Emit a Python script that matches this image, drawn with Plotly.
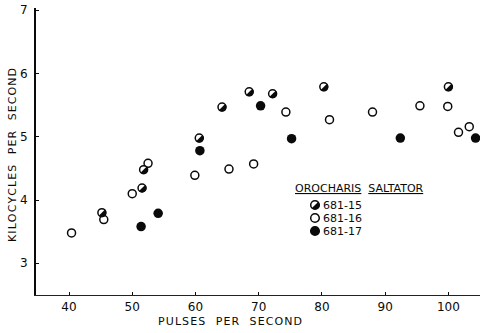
import numpy as np
import plotly.graph_objects as go

# ---- data ----
x15 = [45.2, 51.55, 51.8, 60.6, 64.2, 68.5, 72.2, 80.3, 100.0]
y15 = [3.80, 4.19, 4.48, 4.98, 5.47, 5.71, 5.68, 5.79, 5.79]
x16 = [40.4, 45.5, 50.0, 52.5, 59.9, 65.3, 69.2, 74.3, 81.2, 88.0, 95.5, 99.9, 101.6, 103.3]
y16 = [3.48, 3.69, 4.10, 4.58, 4.39, 4.49, 4.57, 5.39, 5.27, 5.39, 5.49, 5.48, 5.07, 5.16]
x17 = [51.4, 54.1, 60.7, 70.3, 75.2, 92.4, 104.3]
y17 = [3.58, 3.79, 4.78, 5.49, 4.97, 4.98, 4.98]
series_names = ["681-15", "681-16", "681-17"]
x_ticks = [40, 50, 60, 70, 80, 90, 100]
y_ticks = [3, 4, 5, 6, 7]
x_title = "PULSES PER SECOND"
y_title = "KILOCYCLES PER SECOND"
legend_words = ["OROCHARIS", "SALTATOR"]

FONT = "DejaVu Sans"
INK = "#0a0a0a"
MS = 8      # marker size
LW = 1.5    # marker outline width

HAIR = "\u200a"
NBSP = "\u00a0"


def spaced(s, gap=HAIR):
    words = s.split(" ")
    return (NBSP * 3).join(gap.join(w) for w in words)


# half-disk (lower-right half) polygon in pixel offsets, y up
R = MS / 2 + 0.4
ang = np.linspace(np.pi / 4, -3 * np.pi / 4, 25)
half_path = "M " + " L ".join(f"{R*np.cos(a):.2f},{R*np.sin(a):.2f}" for a in ang) + " Z"

fig = go.Figure()

fig.add_trace(go.Scatter(x=x16, y=y16, mode="markers", name=series_names[1],
                         marker=dict(size=MS, color="white", line=dict(color=INK, width=LW))))
fig.add_trace(go.Scatter(x=x15, y=y15, mode="markers", name=series_names[0],
                         marker=dict(size=MS, color="white", line=dict(color=INK, width=LW))))
fig.add_trace(go.Scatter(x=x17, y=y17, mode="markers", name=series_names[2],
                         marker=dict(size=MS + 1.5, color=INK, line=dict(color=INK, width=0))))

shapes = []
for xv, yv in zip(x15, y15):
    shapes.append(dict(type="path", xref="x", yref="y", xsizemode="pixel", ysizemode="pixel",
                       xanchor=xv, yanchor=yv, path=half_path,
                       fillcolor=INK, line=dict(width=0), layer="above"))

# ---- legend drawn by hand (keys + text) ----
def px2paper_x(px):
    return (px - 36) / 444.0


def px2paper_y(py):
    return (295 - py) / 287.0


key_x = px2paper_x(315)
rows_y = [px2paper_y(v) for v in (205, 218, 231)]
cr = MS / 2
for i, ry in enumerate(rows_y):
    fill = INK if i == 2 else "white"
    shapes.append(dict(type="circle", xref="paper", yref="paper", xsizemode="pixel", ysizemode="pixel",
                       xanchor=key_x, yanchor=ry, x0=-cr - 0.3, x1=cr + 0.3, y0=-cr - 0.3, y1=cr + 0.3,
                       fillcolor=fill, line=dict(color=INK, width=LW), layer="above"))
    if i == 0:
        shapes.append(dict(type="path", xref="paper", yref="paper", xsizemode="pixel", ysizemode="pixel",
                           xanchor=key_x, yanchor=ry, path=half_path,
                           fillcolor=INK, line=dict(width=0), layer="above"))

annotations = []
for name, ry in zip(series_names, rows_y):
    annotations.append(dict(text=name, xref="paper", yref="paper", x=px2paper_x(321), y=ry,
                            xanchor="left", yanchor="middle", showarrow=False,
                            font=dict(family=FONT, size=11, color=INK)))
legend_title = (NBSP * 2).join(f"<u>{w}</u>" for w in legend_words)
annotations.append(dict(text=legend_title, xref="paper", yref="paper", x=px2paper_x(359), y=px2paper_y(189),
                        xanchor="center", yanchor="middle", showarrow=False,
                        font=dict(family=FONT, size=11, color=INK)))
annotations.append(dict(text=spaced(x_title), xref="paper", yref="paper", x=px2paper_x(230),
                        y=px2paper_y(322), xanchor="center", yanchor="middle", showarrow=False,
                        font=dict(family=FONT, size=11, color=INK)))
annotations.append(dict(text=spaced(y_title), xref="paper", yref="paper", x=px2paper_x(12),
                        y=px2paper_y(155), xanchor="center", yanchor="middle", showarrow=False,
                        textangle=-90, font=dict(family=FONT, size=11, color=INK)))

fig.update_layout(
    width=480, height=333,
    margin=dict(l=36, r=0, t=8, b=38),
    paper_bgcolor="white", plot_bgcolor="white",
    showlegend=False,
    shapes=shapes, annotations=annotations,
    font=dict(family=FONT, size=11, color=INK),
    xaxis=dict(range=[34.78, 105.0], tickvals=x_ticks, ticks="inside", ticklen=3, tickwidth=1,
               tickcolor=INK, showline=True, linecolor="#222222", linewidth=1.3, showgrid=False,
               zeroline=False, tickfont=dict(family=FONT, size=12, color=INK)),
    yaxis=dict(range=[2.498, 7.036], tickvals=y_ticks, ticks="inside", ticklen=3, tickwidth=1,
               tickcolor=INK, showline=True, linecolor=INK, linewidth=2, showgrid=False,
               zeroline=False, ticklabelstandoff=4, tickfont=dict(family=FONT, size=12, color=INK)),
)

fig.write_html("out.html")
